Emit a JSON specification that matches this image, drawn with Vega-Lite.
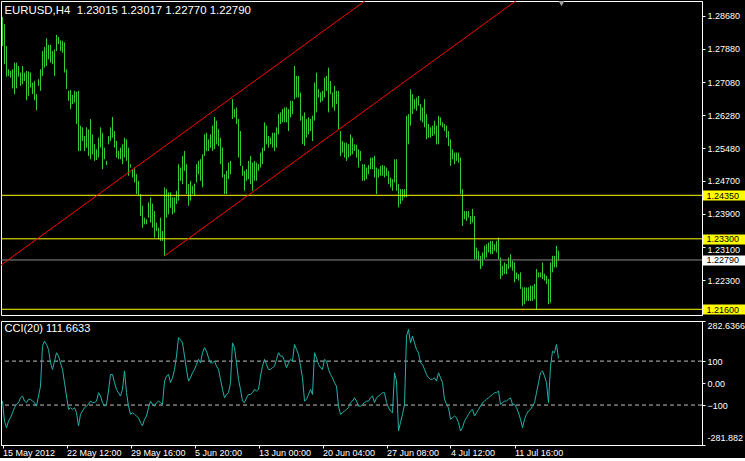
{
  "$schema": "https://vega.github.io/schema/vega-lite/v6.json",
  "background": "black",
  "padding": 0,
  "spacing": 4,
  "config": {
    "view": {"stroke": null},
    "axis": {"labelFont": "Liberation Sans", "labelFontSize": 9, "labelColor": "white", "domainColor": "white", "tickColor": "white", "grid": false, "title": null, "labelOverlap": false},
    "title": {"font": "Liberation Sans", "fontSize": 11, "fontWeight": "normal", "color": "white", "anchor": "start"}
  },
  "datasets": {
    "bars": [
      {"i":0,"high":1.2865,"low":1.2795,"cci":-82},{"i":1,"high":1.2848,"low":1.2751,"cci":-173},{"i":2,"high":1.2795,"low":1.2721,"cci":-203},{"i":3,"high":1.2739,"low":1.2723,"cci":-173},{"i":4,"high":1.2735,"low":1.2719,"cci":-158},{"i":5,"high":1.2739,"low":1.2693,"cci":-135},{"i":6,"high":1.2755,"low":1.2679,"cci":-112},{"i":7,"high":1.2755,"low":1.2693,"cci":-97},{"i":8,"high":1.2747,"low":1.2721,"cci":-89},{"i":9,"high":1.2731,"low":1.2699,"cci":-67},
      {"i":10,"high":1.2747,"low":1.2703,"cci":-59},{"i":11,"high":1.2731,"low":1.2711,"cci":-82},{"i":12,"high":1.2735,"low":1.2664,"cci":-89},{"i":13,"high":1.2734,"low":1.2675,"cci":-74},{"i":14,"high":1.2731,"low":1.2695,"cci":-74},{"i":15,"high":1.2707,"low":1.2679,"cci":-82},{"i":16,"high":1.2711,"low":1.2664,"cci":-89},{"i":17,"high":1.2679,"low":1.264,"cci":-105},{"i":18,"high":1.2715,"low":1.2699,"cci":-59},{"i":19,"high":1.2739,"low":1.2687,"cci":-14},
      {"i":20,"high":1.2783,"low":1.2723,"cci":168},{"i":21,"high":1.2793,"low":1.2743,"cci":191},{"i":22,"high":1.2814,"low":1.2747,"cci":176},{"i":23,"high":1.2798,"low":1.2763,"cci":153},{"i":24,"high":1.2798,"low":1.2755,"cci":92},{"i":25,"high":1.2783,"low":1.2751,"cci":62},{"i":26,"high":1.2787,"low":1.2723,"cci":100},{"i":27,"high":1.2822,"low":1.2783,"cci":138},{"i":28,"high":1.2817,"low":1.28,"cci":123},{"i":29,"high":1.2809,"low":1.2783,"cci":92},
      {"i":30,"high":1.2808,"low":1.2779,"cci":62},{"i":31,"high":1.2804,"low":1.2731,"cci":2},{"i":32,"high":1.2739,"low":1.2691,"cci":-59},{"i":33,"high":1.2687,"low":1.2663,"cci":-120},{"i":34,"high":1.2689,"low":1.2643,"cci":-112},{"i":35,"high":1.2677,"low":1.2655,"cci":-120},{"i":36,"high":1.2687,"low":1.2659,"cci":-112},{"i":37,"high":1.2685,"low":1.2607,"cci":-135},{"i":38,"high":1.2687,"low":1.2542,"cci":-195},{"i":39,"high":1.2603,"low":1.2542,"cci":-142},
      {"i":40,"high":1.2599,"low":1.2566,"cci":-127},{"i":41,"high":1.2578,"low":1.2542,"cci":-112},{"i":42,"high":1.2599,"low":1.255,"cci":-105},{"i":43,"high":1.2594,"low":1.253,"cci":-97},{"i":44,"high":1.2619,"low":1.2522,"cci":-82},{"i":45,"high":1.2582,"low":1.2534,"cci":-89},{"i":46,"high":1.2558,"low":1.2518,"cci":-89},{"i":47,"high":1.2546,"low":1.252,"cci":-82},{"i":48,"high":1.2574,"low":1.2526,"cci":-44},{"i":49,"high":1.2599,"low":1.255,"cci":-59},
      {"i":50,"high":1.2586,"low":1.2498,"cci":-89},{"i":51,"high":1.255,"low":1.2522,"cci":-105},{"i":52,"high":1.2518,"low":1.2508,"cci":-97},{"i":53,"high":1.2578,"low":1.2558,"cci":-36},{"i":54,"high":1.2599,"low":1.2566,"cci":39},{"i":55,"high":1.2624,"low":1.2574,"cci":39},{"i":56,"high":1.259,"low":1.255,"cci":2},{"i":57,"high":1.2566,"low":1.2526,"cci":-29},{"i":58,"high":1.2542,"low":1.2522,"cci":-44},{"i":59,"high":1.255,"low":1.2522,"cci":-59},
      {"i":60,"high":1.2558,"low":1.251,"cci":-29},{"i":61,"high":1.2574,"low":1.2526,"cci":55},{"i":62,"high":1.257,"low":1.2518,"cci":-44},{"i":63,"high":1.255,"low":1.2482,"cci":-105},{"i":64,"high":1.251,"low":1.2502,"cci":-142},{"i":65,"high":1.2498,"low":1.2478,"cci":-135},{"i":66,"high":1.2502,"low":1.2466,"cci":-142},{"i":67,"high":1.2486,"low":1.2438,"cci":-150},{"i":68,"high":1.247,"low":1.2434,"cci":-158},{"i":69,"high":1.2438,"low":1.2385,"cci":-180},
      {"i":70,"high":1.241,"low":1.2357,"cci":-195},{"i":71,"high":1.2381,"low":1.2365,"cci":-165},{"i":72,"high":1.2377,"low":1.2365,"cci":-150},{"i":73,"high":1.2418,"low":1.2381,"cci":-112},{"i":74,"high":1.243,"low":1.2369,"cci":-82},{"i":75,"high":1.2415,"low":1.2357,"cci":-97},{"i":76,"high":1.2397,"low":1.2333,"cci":-105},{"i":77,"high":1.2369,"low":1.2349,"cci":-89},{"i":78,"high":1.2357,"low":1.2329,"cci":-82},{"i":79,"high":1.2381,"low":1.2325,"cci":-89},
      {"i":80,"high":1.2349,"low":1.2325,"cci":-97},{"i":81,"high":1.2454,"low":1.2289,"cci":9},{"i":82,"high":1.245,"low":1.2381,"cci":32},{"i":83,"high":1.2442,"low":1.2389,"cci":39},{"i":84,"high":1.2442,"low":1.2405,"cci":2},{"i":85,"high":1.243,"low":1.2389,"cci":24},{"i":86,"high":1.243,"low":1.2393,"cci":62},{"i":87,"high":1.2446,"low":1.2414,"cci":123},{"i":88,"high":1.251,"low":1.2422,"cci":206},{"i":89,"high":1.2502,"low":1.247,"cci":198},
      {"i":90,"high":1.253,"low":1.2462,"cci":183},{"i":91,"high":1.2542,"low":1.2494,"cci":123},{"i":92,"high":1.251,"low":1.2438,"cci":62},{"i":93,"high":1.2462,"low":1.241,"cci":9},{"i":94,"high":1.247,"low":1.2422,"cci":24},{"i":95,"high":1.2458,"low":1.2438,"cci":47},{"i":96,"high":1.2463,"low":1.2434,"cci":62},{"i":97,"high":1.251,"low":1.2466,"cci":85},{"i":98,"high":1.2518,"low":1.2486,"cci":108},{"i":99,"high":1.2522,"low":1.247,"cci":92},
      {"i":100,"high":1.2534,"low":1.2454,"cci":138},{"i":101,"high":1.2582,"low":1.253,"cci":161},{"i":102,"high":1.2586,"low":1.2542,"cci":145},{"i":103,"high":1.257,"low":1.2542,"cci":115},{"i":104,"high":1.2582,"low":1.255,"cci":92},{"i":105,"high":1.2603,"low":1.2542,"cci":92},{"i":106,"high":1.2624,"low":1.2546,"cci":100},{"i":107,"high":1.2615,"low":1.2558,"cci":77},{"i":108,"high":1.2594,"low":1.2554,"cci":62},{"i":109,"high":1.2574,"low":1.251,"cci":17},
      {"i":110,"high":1.255,"low":1.2478,"cci":-29},{"i":111,"high":1.2486,"low":1.2438,"cci":-67},{"i":112,"high":1.2494,"low":1.2438,"cci":-52},{"i":113,"high":1.2514,"low":1.2474,"cci":-44},{"i":114,"high":1.2518,"low":1.2486,"cci":2},{"i":115,"high":1.2667,"low":1.2619,"cci":183},{"i":116,"high":1.2643,"low":1.2623,"cci":161},{"i":117,"high":1.2647,"low":1.2607,"cci":92},{"i":118,"high":1.2619,"low":1.2526,"cci":17},{"i":119,"high":1.259,"low":1.2506,"cci":-29},
      {"i":120,"high":1.2506,"low":1.2482,"cci":-82},{"i":121,"high":1.2494,"low":1.2446,"cci":-89},{"i":122,"high":1.2498,"low":1.247,"cci":-67},{"i":123,"high":1.2518,"low":1.2474,"cci":-52},{"i":124,"high":1.253,"low":1.2462,"cci":-52},{"i":125,"high":1.2514,"low":1.2446,"cci":-44},{"i":126,"high":1.2518,"low":1.247,"cci":-29},{"i":127,"high":1.2514,"low":1.247,"cci":-36},{"i":128,"high":1.251,"low":1.2494,"cci":-29},{"i":129,"high":1.2538,"low":1.2502,"cci":32},
      {"i":130,"high":1.255,"low":1.251,"cci":77},{"i":131,"high":1.2611,"low":1.2542,"cci":108},{"i":132,"high":1.2603,"low":1.2558,"cci":85},{"i":133,"high":1.2578,"low":1.255,"cci":62},{"i":134,"high":1.2574,"low":1.2558,"cci":62},{"i":135,"high":1.2586,"low":1.255,"cci":70},{"i":136,"high":1.2586,"low":1.2542,"cci":77},{"i":137,"high":1.2599,"low":1.255,"cci":108},{"i":138,"high":1.2631,"low":1.2582,"cci":138},{"i":139,"high":1.2635,"low":1.2607,"cci":123},
      {"i":140,"high":1.2643,"low":1.2611,"cci":123},{"i":141,"high":1.2647,"low":1.2611,"cci":100},{"i":142,"high":1.2647,"low":1.2611,"cci":70},{"i":143,"high":1.2643,"low":1.259,"cci":92},{"i":144,"high":1.2663,"low":1.2623,"cci":108},{"i":145,"high":1.2663,"low":1.2631,"cci":100},{"i":146,"high":1.2747,"low":1.2667,"cci":176},{"i":147,"high":1.2723,"low":1.2671,"cci":153},{"i":148,"high":1.2723,"low":1.2671,"cci":130},{"i":149,"high":1.2683,"low":1.2615,"cci":77},
      {"i":150,"high":1.2627,"low":1.2558,"cci":24},{"i":151,"high":1.2635,"low":1.2554,"cci":-82},{"i":152,"high":1.2619,"low":1.2574,"cci":-74},{"i":153,"high":1.2623,"low":1.2582,"cci":-52},{"i":154,"high":1.2619,"low":1.259,"cci":-29},{"i":155,"high":1.2627,"low":1.2566,"cci":-52},{"i":156,"high":1.2707,"low":1.2615,"cci":138},{"i":157,"high":1.2731,"low":1.2635,"cci":115},{"i":158,"high":1.2691,"low":1.2671,"cci":85},{"i":159,"high":1.2683,"low":1.2659,"cci":70},
      {"i":160,"high":1.2687,"low":1.2663,"cci":62},{"i":161,"high":1.2719,"low":1.2671,"cci":108},{"i":162,"high":1.2723,"low":1.2687,"cci":100},{"i":163,"high":1.2743,"low":1.2635,"cci":62},{"i":164,"high":1.2711,"low":1.2679,"cci":39},{"i":165,"high":1.2683,"low":1.2647,"cci":24},{"i":166,"high":1.2699,"low":1.2639,"cci":2},{"i":167,"high":1.2687,"low":1.2655,"cci":-14},{"i":168,"high":1.2687,"low":1.2594,"cci":-105},{"i":169,"high":1.259,"low":1.253,"cci":-142},
      {"i":170,"high":1.2566,"low":1.2538,"cci":-135},{"i":171,"high":1.2562,"low":1.2526,"cci":-127},{"i":172,"high":1.2562,"low":1.2518,"cci":-120},{"i":173,"high":1.2558,"low":1.2526,"cci":-112},{"i":174,"high":1.2582,"low":1.253,"cci":-89},{"i":175,"high":1.2574,"low":1.2534,"cci":-82},{"i":176,"high":1.2558,"low":1.2542,"cci":-67},{"i":177,"high":1.2557,"low":1.2526,"cci":-82},{"i":178,"high":1.2546,"low":1.2502,"cci":-105},{"i":179,"high":1.2542,"low":1.2518,"cci":-105},
      {"i":180,"high":1.251,"low":1.247,"cci":-97},{"i":181,"high":1.251,"low":1.247,"cci":-89},{"i":182,"high":1.2502,"low":1.2474,"cci":-82},{"i":183,"high":1.2508,"low":1.2486,"cci":-82},{"i":184,"high":1.2526,"low":1.2498,"cci":-67},{"i":185,"high":1.2526,"low":1.2498,"cci":-59},{"i":186,"high":1.253,"low":1.2478,"cci":-89},{"i":187,"high":1.2502,"low":1.2438,"cci":-67},{"i":188,"high":1.2498,"low":1.2478,"cci":-59},{"i":189,"high":1.2506,"low":1.2482,"cci":-52},
      {"i":190,"high":1.2508,"low":1.2482,"cci":-44},{"i":191,"high":1.2506,"low":1.2478,"cci":-44},{"i":192,"high":1.2502,"low":1.2482,"cci":-89},{"i":193,"high":1.2494,"low":1.2462,"cci":-112},{"i":194,"high":1.2478,"low":1.2454,"cci":-127},{"i":195,"high":1.2474,"low":1.2446,"cci":-135},{"i":196,"high":1.2522,"low":1.2466,"cci":47},{"i":197,"high":1.2522,"low":1.2446,"cci":9},{"i":198,"high":1.2462,"low":1.2406,"cci":-218},{"i":199,"high":1.245,"low":1.2414,"cci":-180},
      {"i":200,"high":1.245,"low":1.2422,"cci":-142},{"i":201,"high":1.245,"low":1.243,"cci":-97},{"i":202,"high":1.2627,"low":1.243,"cci":214},{"i":203,"high":1.2631,"low":1.2558,"cci":244},{"i":204,"high":1.2691,"low":1.2603,"cci":183},{"i":205,"high":1.2679,"low":1.2631,"cci":214},{"i":206,"high":1.2667,"low":1.2643,"cci":183},{"i":207,"high":1.2671,"low":1.2639,"cci":153},{"i":208,"high":1.2675,"low":1.2651,"cci":138},{"i":209,"high":1.2655,"low":1.2615,"cci":92},
      {"i":210,"high":1.2647,"low":1.2611,"cci":85},{"i":211,"high":1.2667,"low":1.2599,"cci":62},{"i":212,"high":1.2631,"low":1.257,"cci":39},{"i":213,"high":1.2607,"low":1.2574,"cci":24},{"i":214,"high":1.2599,"low":1.2574,"cci":17},{"i":215,"high":1.2603,"low":1.2578,"cci":17},{"i":216,"high":1.2615,"low":1.2582,"cci":24},{"i":217,"high":1.2603,"low":1.2558,"cci":9},{"i":218,"high":1.2627,"low":1.2558,"cci":47},{"i":219,"high":1.2623,"low":1.2603,"cci":24},
      {"i":220,"high":1.2611,"low":1.2599,"cci":2},{"i":221,"high":1.2607,"low":1.259,"cci":-74},{"i":222,"high":1.2603,"low":1.2574,"cci":-97},{"i":223,"high":1.259,"low":1.2554,"cci":-112},{"i":224,"high":1.257,"low":1.2506,"cci":-165},{"i":225,"high":1.2546,"low":1.2522,"cci":-158},{"i":226,"high":1.2538,"low":1.251,"cci":-150},{"i":227,"high":1.2538,"low":1.2518,"cci":-158},{"i":228,"high":1.2538,"low":1.2514,"cci":-180},{"i":229,"high":1.2526,"low":1.2438,"cci":-218},
      {"i":230,"high":1.245,"low":1.2361,"cci":-203},{"i":231,"high":1.2397,"low":1.2377,"cci":-173},{"i":232,"high":1.2397,"low":1.2373,"cci":-158},{"i":233,"high":1.2397,"low":1.2381,"cci":-142},{"i":234,"high":1.2385,"low":1.2365,"cci":-127},{"i":235,"high":1.2402,"low":1.2369,"cci":-120},{"i":236,"high":1.2385,"low":1.2281,"cci":-150},{"i":237,"high":1.2309,"low":1.2281,"cci":-135},{"i":238,"high":1.2301,"low":1.2277,"cci":-120},{"i":239,"high":1.2289,"low":1.2257,"cci":-105},
      {"i":240,"high":1.2297,"low":1.2265,"cci":-89},{"i":241,"high":1.2313,"low":1.2281,"cci":-82},{"i":242,"high":1.2317,"low":1.2285,"cci":-74},{"i":243,"high":1.2321,"low":1.2297,"cci":-67},{"i":244,"high":1.2325,"low":1.2293,"cci":-59},{"i":245,"high":1.2325,"low":1.2293,"cci":-52},{"i":246,"high":1.2317,"low":1.2301,"cci":-44},{"i":247,"high":1.2325,"low":1.2297,"cci":-44},{"i":248,"high":1.2333,"low":1.2281,"cci":-36},{"i":249,"high":1.2285,"low":1.2233,"cci":-97},
      {"i":250,"high":1.2265,"low":1.2241,"cci":-89},{"i":251,"high":1.2273,"low":1.2245,"cci":-82},{"i":252,"high":1.2269,"low":1.2245,"cci":-82},{"i":253,"high":1.2285,"low":1.2257,"cci":-74},{"i":254,"high":1.2293,"low":1.2261,"cci":-67},{"i":255,"high":1.2277,"low":1.2253,"cci":-97},{"i":256,"high":1.2273,"low":1.2225,"cci":-97},{"i":257,"high":1.2249,"low":1.2233,"cci":-112},{"i":258,"high":1.2245,"low":1.2229,"cci":-135},{"i":259,"high":1.2249,"low":1.2209,"cci":-165},
      {"i":260,"high":1.2213,"low":1.2168,"cci":-203},{"i":261,"high":1.2213,"low":1.2172,"cci":-165},{"i":262,"high":1.2213,"low":1.218,"cci":-142},{"i":263,"high":1.2213,"low":1.218,"cci":-127},{"i":264,"high":1.2217,"low":1.218,"cci":-120},{"i":265,"high":1.2217,"low":1.218,"cci":-105},{"i":266,"high":1.2221,"low":1.2184,"cci":-89},{"i":267,"high":1.2257,"low":1.216,"cci":-44},{"i":268,"high":1.2249,"low":1.2237,"cci":2},{"i":269,"high":1.2249,"low":1.2237,"cci":47},
      {"i":270,"high":1.2273,"low":1.2233,"cci":55},{"i":271,"high":1.2246,"low":1.2229,"cci":32},{"i":272,"high":1.2241,"low":1.2221,"cci":2},{"i":273,"high":1.2233,"low":1.2172,"cci":-89},{"i":274,"high":1.2273,"low":1.2176,"cci":77},{"i":275,"high":1.2289,"low":1.2249,"cci":145},{"i":276,"high":1.2289,"low":1.2261,"cci":138},{"i":277,"high":1.2313,"low":1.2261,"cci":176},{"i":278,"high":1.23017,"low":1.2277,"cci":111.6633}
    ],
    "channel": [
      {"line":"upper","i":-1,"price":1.22657},{"line":"upper","i":300,"price":1.33201},
      {"line":"lower","i":81,"price":1.22886},{"line":"lower","i":300,"price":1.30558}
    ],
    "levels": [{"price":1.2435},{"price":1.233},{"price":1.216}],
    "bid": [{"price":1.2279}],
    "shift": [{"i":279.5,"price":1.28995}],
    "cciLevels": [{"level":100},{"level":-100}]
  },
  "vconcat": [
    {
      "width": 701,
      "height": 314,
      "view": {"stroke": "white", "strokeWidth": 1},
      "title": {"text": "EURUSD,H4\u00a0 1.23015 1.23017 1.22770 1.22790", "offset": -15, "dx": 4, "font": "Liberation Sans", "fontSize": 11.4},
      "layer": [
        {
          "data": {"name": "bars"},
          "mark": {"type": "rule", "color": "#32CD32", "strokeWidth": 1},
          "encoding": {
            "x": {"field": "i", "type": "quantitative", "scale": {"domain": [-0.75, 349.75], "nice": false, "zero": false}, "axis": null},
            "y": {"field": "low", "type": "quantitative", "scale": {"domain": [1.21462, 1.29038], "nice": false, "zero": false},
              "axis": {
                "orient": "right",
                "values": [1.2868, 1.2788, 1.2708, 1.2628, 1.2548, 1.247, 1.2435, 1.239, 1.233, 1.231, 1.2279, 1.223, 1.216],
                "tickCount": 100,
                "labelExpr": "format(datum.value, '.5f')",
                "labelOverlap": false,
                "labelFlush": false,
                "domainColor": "white",
                "labelColor": {"condition": {"test": "datum.value == 1.2435 || datum.value == 1.233 || datum.value == 1.216 || datum.value == 1.2279", "value": "black"}, "value": "white"},
                "labelOffset": {"condition": {"test": "datum.value == 1.231", "value": 2}, "value": 0},
                "tickColor": {"condition": [{"test": "datum.value == 1.2279", "value": "white"}, {"test": "datum.value == 1.2435 || datum.value == 1.233 || datum.value == 1.216", "value": "#FFFF00"}], "value": "white"},
                "tickSize": {"condition": {"test": "datum.value == 1.2435 || datum.value == 1.233 || datum.value == 1.216 || datum.value == 1.2279", "value": 44}, "value": 3},
                "tickWidth": {"condition": {"test": "datum.value == 1.2435 || datum.value == 1.233 || datum.value == 1.216 || datum.value == 1.2279", "value": 10}, "value": 1},
                "labelPadding": {"condition": {"test": "datum.value == 1.2435 || datum.value == 1.233 || datum.value == 1.216 || datum.value == 1.2279", "value": -40}, "value": 2}
              }
            },
            "y2": {"field": "high"}
          }
        },
        {
          "data": {"name": "levels"},
          "mark": {"type": "rule", "color": "#FFFF00", "strokeWidth": 1},
          "encoding": {"y": {"field": "price", "type": "quantitative", "scale": {"domain": [1.21462, 1.29038], "nice": false, "zero": false}}}
        },
        {
          "data": {"name": "bid"},
          "mark": {"type": "rule", "color": "#8C8C8C", "strokeWidth": 1},
          "encoding": {"y": {"field": "price", "type": "quantitative", "scale": {"domain": [1.21462, 1.29038], "nice": false, "zero": false}}}
        },
        {
          "data": {"name": "channel"},
          "mark": {"type": "line", "color": "#FF0000", "strokeWidth": 1, "clip": true},
          "encoding": {
            "x": {"field": "i", "type": "quantitative", "scale": {"domain": [-0.75, 349.75], "nice": false, "zero": false}},
            "y": {"field": "price", "type": "quantitative", "scale": {"domain": [1.21462, 1.29038], "nice": false, "zero": false}},
            "detail": {"field": "line", "type": "nominal"}
          }
        },
        {
          "data": {"name": "shift"},
          "mark": {"type": "point", "shape": "triangle-down", "filled": true, "color": "#A0A0A0", "size": 60, "opacity": 1, "clip": true},
          "encoding": {
            "x": {"field": "i", "type": "quantitative", "scale": {"domain": [-0.75, 349.75], "nice": false, "zero": false}},
            "y": {"field": "price", "type": "quantitative", "scale": {"domain": [1.21462, 1.29038], "nice": false, "zero": false}}
          }
        }
      ]
    },
    {
      "width": 701,
      "height": 124,
      "view": {"stroke": "white", "strokeWidth": 1},
      "title": {"text": "CCI(20) 111.6633", "offset": -13, "dx": 4, "font": "Liberation Sans", "fontSize": 11},
      "layer": [
        {
          "data": {"name": "cciLevels"},
          "mark": {"type": "rule", "color": "#C0C0C0", "strokeWidth": 1, "strokeDash": [4, 3]},
          "encoding": {"y": {"field": "level", "type": "quantitative", "scale": {"domain": [-281.882, 282.6366], "nice": false, "zero": false}}}
        },
        {
          "data": {"name": "bars"},
          "mark": {"type": "line", "color": "#20B2AA", "strokeWidth": 1, "clip": true},
          "encoding": {
            "x": {"field": "i", "type": "quantitative", "scale": {"domain": [-0.75, 349.75], "nice": false, "zero": false},
              "axis": {
                "orient": "bottom",
                "values": [0, 32, 64, 96, 128, 160, 192, 224, 256],
                "tickCount": 100,
                "labelExpr": "['15 May 2012','22 May 12:00','29 May 16:00','5 Jun 20:00','13 Jun 00:00','20 Jun 04:00','27 Jun 08:00','4 Jul 12:00','11 Jul 16:00'][datum.value / 32]",
                "labelAlign": "left",
                "labelOverlap": false,
                "labelFlush": false,
                "tickSize": 3,
                "labelPadding": 0
              }
            },
            "y": {"field": "cci", "type": "quantitative", "scale": {"domain": [-281.882, 282.6366], "nice": false, "zero": false},
              "axis": {
                "orient": "right",
                "values": [282.6366, 100, 0, -100, -281.882],
                "tickCount": 100,
                "labelExpr": "datum.value > 200 ? '282.6366' : datum.value < -200 ? '-281.882' : datum.value == 0 ? '0.00' : format(datum.value, 'd')",
                "labelOverlap": false,
                "labelFlush": false,
                "tickSize": 3,
                "labelPadding": 2,
                "labelOffset": {"condition": {"test": "datum.value < -200", "value": -3}, "value": 0},
                "labelBaseline": {"condition": [{"test": "datum.value > 200", "value": "top"}, {"test": "datum.value < -200", "value": "bottom"}], "value": "middle"}
              }
            }
          }
        }
      ]
    }
  ]
}
